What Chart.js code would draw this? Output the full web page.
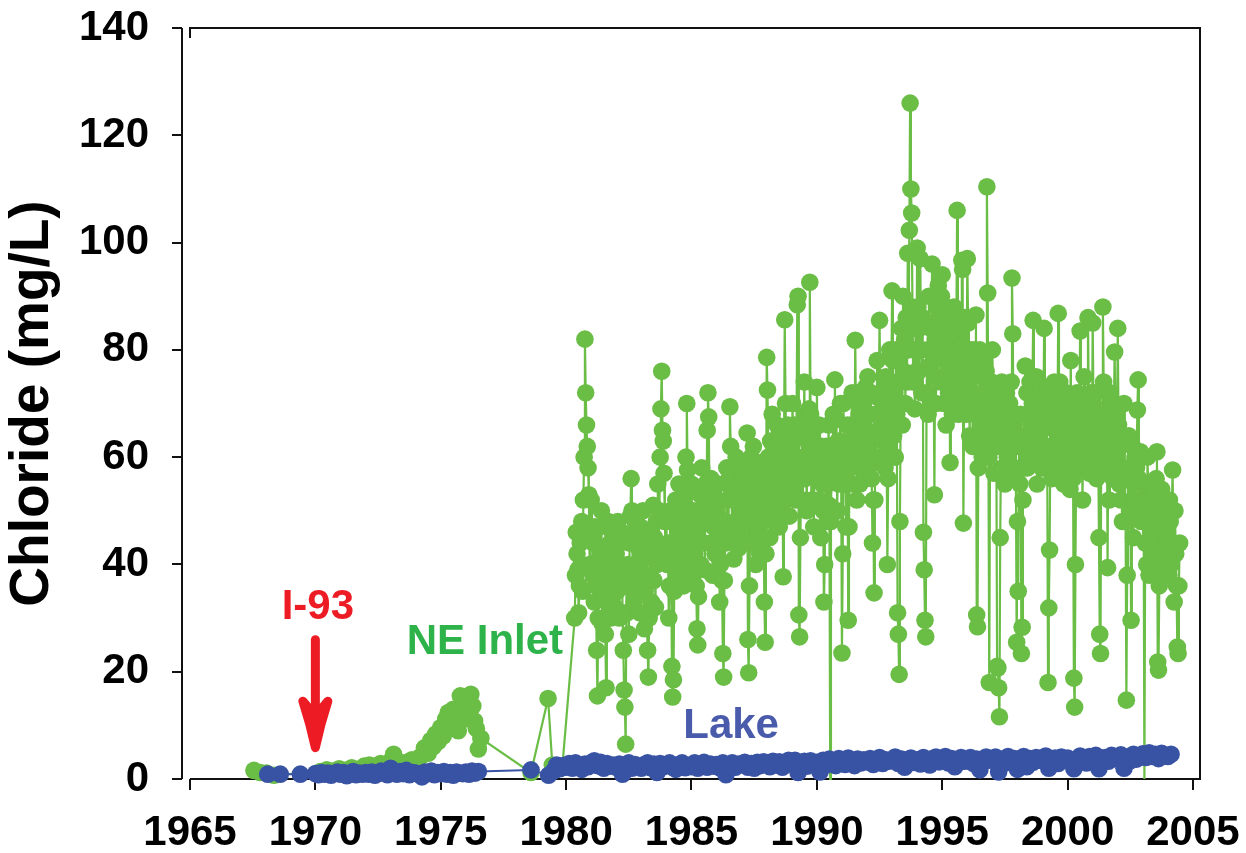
<!DOCTYPE html>
<html>
<head>
<meta charset="utf-8">
<title>Chloride - NE Inlet and Lake</title>
<script src="https://cdn.jsdelivr.net/npm/chart.js@4.4.0/dist/chart.umd.min.js"></script>
<style>
  html, body { margin: 0; padding: 0; background: #fff; }
  #wrap { width: 1246px; height: 853px; }
</style>
</head>
<body>
<div id="wrap"><canvas id="chloride"></canvas></div>
<script>
// axis ticks
const yearTicks = [1965, 1970, 1975, 1980, 1985, 1990, 1995, 2000, 2005];
const chlorideTicks = [0, 20, 40, 60, 80, 100, 120, 140];

// NE Inlet - scattered early samples (decimal year, mg/L)
const inletEarlyDates = [
  1967.55, 1967.8, 1968.05, 1968.35,
  1970.2, 1970.45, 1970.7, 1970.95, 1971.2, 1971.45, 1971.7, 1971.95,
  1972.15, 1972.4, 1972.6, 1972.8, 1973.0, 1973.12, 1973.25, 1973.45, 1973.65, 1973.85,
  1974.05, 1974.2, 1974.35, 1974.5, 1974.6, 1974.7, 1974.8, 1974.9,
  1975.0, 1975.1, 1975.2, 1975.3, 1975.4, 1975.5, 1975.6, 1975.7, 1975.78, 1975.86, 1975.95,
  1976.05, 1976.12, 1976.2, 1976.28, 1976.35, 1976.42, 1976.5, 1976.6,
  1978.6, 1979.28, 1979.45, 1979.6, 1979.85
];
const inletEarlyValues = [
  1.6, 1.2, 1.1, 0.7,
  1.4, 1.7, 1.5, 1.9, 1.6, 2.1, 1.8, 2.4,
  2.6, 2.3, 2.9, 2.6, 3.3, 4.6, 3.4, 2.8, 3.1, 3.6,
  3.3, 4.2, 5.8, 4.8, 7.2, 6.0, 8.4, 7.0,
  9.6, 8.0, 11.2, 12.4, 10.2, 13.0, 11.0, 9.0, 15.5, 13.4, 12.0,
  14.2, 11.2, 15.8, 13.6, 10.8, 9.4, 5.6, 7.6,
  1.2, 15.0, 2.6, 1.8, 2.3
];

// NE Inlet - regular sampling from spring 1980, 32 readings a year
const inletRunStart = 1980 + 11 / 32;
const inletRunStep = 1 / 32;
const inletRun = [
  /* 1980 */ 30, 38, 46, 42, 39, 31, 36, 44, 40, 48, 35, 52, 60, 82, 72, 66, 62, 58, 53, 40, 47,
  /* 1981 */ 52, 45, 38, 44, 33, 47, 36, 24, 15.5, 30, 41, 47, 36, 50, 29, 38, 43, 34, 27, 17, 33, 42, 48, 35, 44, 30, 39, 46, 36, 41, 32, 45,
  /* 1982 */ 42, 35, 48, 38, 30, 44, 36, 46, 31, 24, 16.6, 13.4, 6.5, 36, 31, 40, 27, 44, 49, 56, 50, 38, 45, 33, 48, 40, 35, 46, 39, 43, 31, 47,
  /* 1983 */ 44, 36, 50, 41, 28, 35, 46, 30, 24, 19, 30, 38, 46, 33, 42, 51, 37, 45, 32, 48, 40, 55, 43, 50, 60, 69, 76, 65, 63, 57, 48, 42,
  /* 1984 */ 48, 40, 44, 30, 36, 50, 42, 21, 15.3, 18.5, 35, 44, 52, 38, 47, 42, 55, 46, 50, 39, 52, 44, 36, 48, 53, 60, 70, 57.6, 45, 50, 41, 54,
  /* 1985 */ 55, 46, 38, 50, 42, 47, 36, 28, 25, 34, 47, 53, 40, 58, 49, 44, 52, 39, 55, 48, 65, 72, 67.5, 52, 44, 56, 49, 38, 47, 53, 42, 50,
  /* 1986 */ 50, 42, 55, 46, 33, 40, 48, 37, 23.4, 19, 37, 48, 44, 58, 52, 45, 56, 69.4, 62, 54, 45, 57, 41, 52, 48, 60, 46, 55, 43, 51, 58, 47,
  /* 1987 */ 55, 47, 58, 50, 44, 53, 48, 64.5, 26, 19.8, 36, 49, 60, 44, 53, 62, 48, 56, 40, 51, 59, 46, 54, 42, 57, 50, 45, 58, 48, 33, 25.5, 42,
  /* 1988 */ 78.6, 72.5, 60, 52, 45, 63, 55, 68, 50, 58, 48, 62, 55, 66, 52, 60, 47, 57, 64, 51, 59, 37.7, 60, 85.6, 70, 62, 53, 66, 58, 49, 63, 55,
  /* 1989 */ 62, 70, 55, 66, 58, 52, 64, 88.4, 90, 30.6, 26.5, 45, 58, 66, 52, 60, 74, 56, 68, 50, 63, 57, 69, 92.6, 68, 52, 60, 65, 47, 57, 66, 59,
  /* 1990 */ 73, 60, 52, 66, 58, 45, 62, 55, 50, 33, 40, 56, 62, 48, 55, 66, 51, 0, 48, 62, 57, 68, 60, 74.4, 58, 67, 50, 63, 55, 60, 70, 58,
  /* 1991 */ 23.5, 42, 70, 55, 62, 47, 58, 66, 29.6, 47, 63, 58, 66, 72, 55, 64, 60, 81.8, 66, 52, 72, 60, 68, 55, 64, 58, 70, 61, 67, 56, 73, 62,
  /* 1992 */ 62, 75, 58, 68, 64, 72, 56, 44, 52, 34.7, 52, 68, 60, 78, 65, 71, 85.5, 71, 60, 66, 72, 63, 70, 58, 75, 62, 40, 56, 73, 80, 67, 74,
  /* 1993 */ 91, 78, 64, 72, 60, 80, 68, 31, 27, 19.5, 48, 70, 84, 66, 90, 76, 82, 70, 86, 74, 98, 80, 102.3, 126, 110, 105.5, 88, 74, 80, 69, 84, 76,
  /* 1994 */ 99, 88, 76, 84, 97, 80, 72, 86, 46, 39, 29.6, 26.5, 72, 80, 68, 90, 77, 84, 70, 96, 85, 78, 53, 82, 70, 88, 75, 92, 80, 86, 74, 90,
  /* 1995 */ 94, 82, 70, 78, 88, 66, 75, 84, 72, 80, 59, 72, 85, 68, 80, 88, 76, 70, 84, 106, 80, 68, 84, 74, 86, 96.7, 95, 47.7, 72, 86, 78, 68,
  /* 1996 */ 97, 85, 74, 64, 80, 70, 76, 62, 72, 80, 68, 86.5, 30.6, 28.4, 58, 70, 80, 66, 75, 60, 72, 78, 64, 70, 76, 110.4, 90.6, 60, 18, 62, 68, 74,
  /* 1997 */ 80, 68, 57, 72, 62, 66, 21, 20.7, 17, 11.6, 45, 62, 74, 58, 70, 64, 55, 68, 72, 60, 66, 58, 70, 63, 74, 93.4, 83, 66, 58, 64, 56, 25.5,
  /* 1998 */ 48, 35, 62, 55, 68, 23.4, 28.3, 52, 64, 58, 77, 64, 72, 58, 68, 60, 74, 66, 62, 70, 85.5, 60, 70, 62, 75, 55, 66, 71, 59, 67, 73, 58,
  /* 1999 */ 70, 62, 84, 58, 66, 72, 60, 18, 31.9, 42.7, 62, 72, 56, 68, 60, 74, 65, 58, 70, 64, 86.8, 64, 74, 57, 66, 60, 70, 55, 68, 62, 72, 58,
  /* 2000 */ 66, 58, 70, 54, 78, 62, 68, 56, 18.8, 13.4, 40, 60, 72, 64, 58, 70, 83.5, 58, 68, 52, 66, 75, 60, 70, 62, 68, 86, 70, 57, 64, 72, 60,
  /* 2001 */ 85, 70, 60, 72, 64, 56, 68, 62, 45, 27, 23.4, 66, 58, 88, 74, 58, 68, 62, 72, 39.4, 66, 52, 72, 60, 70, 62, 56, 68, 79.6, 68, 58, 64,
  /* 2002 */ 84, 66, 55, 62, 52, 58, 48, 64, 70, 56, 48, 14.7, 38, 58, 64, 50, 56, 29.6, 50, 62, 45, 56, 60, 52, 58, 68.8, 74.4, 56, 52, 61, 48, 55,
  /* 2003 */ 48, 52, 0, 44, 52, 40, 60, 52, 38, 55, 46, 50, 40, 44, 53, 41, 49, 56, 61, 21.8, 20.3, 36, 50, 42, 54, 38, 47, 52, 44, 39, 50, 45,
  /* 2004 */ 45, 38, 52, 48, 40, 50, 57.6, 44, 33, 50, 42, 36, 24.6, 23.4, 36, 44
];

// Lake - a few lone samples, then two regular runs at 8 readings a year
const lakeSpotDates = [1968.1, 1968.6, 1969.4, 1978.6, 1979.3];
const lakeSpotValues = [0.9, 0.9, 0.9, 1.7, 0.7];
const lakeStep = 1 / 8;
const lakeRun1Start = 1970;
const lakeRun1 = [
  /* 1970 */ 1.0, 0.8, 1.2, 0.9, 1.1, 0.7, 1.0, 1.3,
  /* 1971 */ 0.9, 1.2, 0.6, 1.0, 1.4, 0.8, 1.1, 0.9,
  /* 1972 */ 1.2, 0.9, 1.3, 0.7, 1.0, 1.5, 1.1, 0.8,
  /* 1973 */ 2.0, 1.2, 0.9, 1.4, 1.0, 1.6, 0.8, 1.2,
  /* 1974 */ 1.1, 0.9, 0.4, 1.3, 1.0, 1.5, 0.8, 1.2,
  /* 1975 */ 1.0, 1.4, 0.9, 1.2, 0.7, 1.3, 1.1, 1.0,
  /* 1976 */ 1.3, 0.9, 1.5, 1.1, 1.4
];
const lakeRun2Start = 1979.5;
const lakeRun2 = [
  /* 1979 */ 1.5, 2.6, 1.9, 2.5,
  /* 1980 */ 2.2, 2.9, 2.0, 3.0, 2.4, 1.8, 2.8, 2.3,
  /* 1981 */ 3.0, 3.4, 2.5, 3.1, 2.0, 2.9, 2.4, 2.6,
  /* 1982 */ 2.2, 2.8, 0.9, 2.6, 3.0, 2.0, 2.7, 2.3,
  /* 1983 */ 2.0, 2.7, 3.0, 2.1, 2.8, 1.2, 2.9, 2.3,
  /* 1984 */ 2.6, 3.0, 2.2, 1.8, 2.7, 3.0, 2.1, 2.5,
  /* 1985 */ 2.3, 3.0, 2.0, 2.7, 3.1, 2.2, 2.8, 2.4,
  /* 1986 */ 2.7, 2.1, 3.0, 0.8, 2.4, 3.0, 2.2, 2.8,
  /* 1987 */ 2.8, 3.1, 2.2, 2.9, 2.0, 3.1, 2.5, 3.2,
  /* 1988 */ 2.9, 2.3, 3.3, 2.6, 3.2, 2.2, 3.0, 3.5,
  /* 1989 */ 2.8, 3.5, 1.2, 2.7, 3.3, 2.4, 3.4, 2.8,
  /* 1990 */ 3.1, 1.3, 3.5, 2.6, 3.7, 3.0, 2.5, 3.8,
  /* 1991 */ 3.4, 2.7, 3.9, 3.1, 2.5, 3.7, 3.0, 3.6,
  /* 1992 */ 3.2, 3.8, 2.7, 3.5, 4.0, 2.9, 3.6, 3.3,
  /* 1993 */ 3.5, 4.1, 2.9, 3.7, 2.2, 3.4, 3.9, 3.1,
  /* 1994 */ 3.6, 2.8, 4.0, 3.3, 2.6, 3.8, 4.1, 3.2,
  /* 1995 */ 3.7, 4.2, 3.0, 3.8, 2.3, 3.5, 4.0, 3.3,
  /* 1996 */ 3.4, 4.0, 2.9, 3.7, 1.7, 3.3, 4.1, 3.5,
  /* 1997 */ 3.6, 4.1, 1.3, 3.6, 3.0, 4.2, 3.2, 3.8,
  /* 1998 */ 1.8, 3.4, 4.2, 2.3, 3.8, 3.1, 4.0, 3.5,
  /* 1999 */ 3.8, 4.3, 2.0, 3.2, 3.9, 2.9, 4.1, 3.6,
  /* 2000 */ 3.9, 3.3, 1.9, 3.6, 4.3, 3.8, 3.0, 4.2,
  /* 2001 */ 3.7, 4.4, 1.9, 3.4, 4.0, 3.3, 4.4, 3.8,
  /* 2002 */ 4.0, 4.5, 2.0, 4.1, 3.4, 4.6, 3.7, 4.3,
  /* 2003 */ 4.7, 4.0, 4.9, 4.2, 4.6, 3.8, 4.8, 4.3,
  /* 2004 */ 4.2, 4.6
];

const FONT = '"Liberation Sans", Arial, Helvetica, sans-serif';
const inletGreen = '#6abd45';
const lakeBlue = '#3953a4';

function spotPoints(dates, values) {
  return dates.map((d, i) => ({ x: d, y: values[i] }));
}
function runPoints(start, step, values) {
  return values.map((v, i) => ({ x: start + i * step, y: v }));
}

const inletPoints = spotPoints(inletEarlyDates, inletEarlyValues)
  .concat(runPoints(inletRunStart, inletRunStep, inletRun));
const lakePoints = spotPoints(lakeSpotDates, lakeSpotValues)
  .concat(runPoints(lakeRun1Start, lakeStep, lakeRun1), runPoints(lakeRun2Start, lakeStep, lakeRun2))
  .sort((a, b) => a.x - b.x);

// axis lines drawn by hand: the y axis sits a few px off the plot box
const axisLines = {
  id: 'axisLines',
  beforeDatasetsDraw(chart) {
    const { ctx, chartArea: a, scales: { x, y } } = chart;
    const yAxisX = a.left - 8;
    ctx.save();
    ctx.strokeStyle = '#111';
    ctx.lineWidth = 2;
    ctx.beginPath();
    ctx.moveTo(yAxisX, a.top);
    ctx.lineTo(yAxisX, a.bottom);
    chlorideTicks.forEach(v => {
      const py = Math.round(y.getPixelForValue(v));
      ctx.moveTo(yAxisX - 10, py);
      ctx.lineTo(yAxisX, py);
    });
    ctx.moveTo(a.left, a.top + 10);
    ctx.lineTo(a.left, a.top);
    ctx.lineTo(a.right, a.top);
    ctx.lineTo(a.right, a.bottom);
    ctx.lineTo(a.left, a.bottom);
    yearTicks.forEach(v => {
      const px = Math.round(x.getPixelForValue(v));
      ctx.moveTo(px, a.bottom);
      ctx.lineTo(px, a.bottom + 11);
    });
    ctx.stroke();
    ctx.restore();
  }
};

// text labels and the I-93 arrow
const notes = {
  id: 'notes',
  afterDatasetsDraw(chart) {
    const { ctx, scales: { x, y } } = chart;
    ctx.save();
    ctx.font = 'bold 42px ' + FONT;
    ctx.textAlign = 'center';
    ctx.textBaseline = 'alphabetic';

    ctx.fillStyle = '#ed1c24';
    ctx.fillText('I-93', x.getPixelForValue(1970.1), y.getPixelForValue(29.8));

    // arrow pointing at 1970
    const ax = x.getPixelForValue(1970);
    const top = y.getPixelForValue(26.8);
    const tip = y.getPixelForValue(5.0);
    ctx.strokeStyle = '#ed1c24';
    ctx.lineWidth = 9;
    ctx.lineCap = 'round';
    ctx.lineJoin = 'round';
    ctx.beginPath();
    ctx.moveTo(ax, top + 4.5);
    ctx.lineTo(ax, tip - 20);
    ctx.stroke();
    ctx.beginPath();
    ctx.moveTo(ax - 12.5, tip - 51);
    ctx.quadraticCurveTo(ax - 5, tip - 28, ax, tip - 4.5);
    ctx.quadraticCurveTo(ax + 5, tip - 28, ax + 12.5, tip - 51);
    ctx.lineTo(ax, tip - 36);
    ctx.closePath();
    ctx.fill();
    ctx.stroke();

    ctx.fillStyle = '#2db34a';
    ctx.fillText('NE Inlet', x.getPixelForValue(1976.76), y.getPixelForValue(23.3));

    ctx.fillStyle = '#4a5bab';
    ctx.fillText('Lake', x.getPixelForValue(1986.58), y.getPixelForValue(7.6));
    ctx.restore();
  }
};

new Chart(document.getElementById('chloride'), {
  type: 'line',
  data: {
    datasets: [
      {
        label: 'Lake',
        data: lakePoints,
        borderColor: lakeBlue,
        borderWidth: 2,
        backgroundColor: lakeBlue,
        pointBackgroundColor: lakeBlue,
        pointBorderWidth: 0,
        pointRadius: 8.8,
        tension: 0,
        clip: false,
        order: 0
      },
      {
        label: 'NE Inlet',
        data: inletPoints,
        borderColor: inletGreen,
        borderWidth: 2.2,
        backgroundColor: inletGreen,
        pointBackgroundColor: inletGreen,
        pointBorderWidth: 0,
        pointRadius: c => (c.raw && c.raw.y === 0 ? 0 : 8.8),
        tension: 0,
        clip: false,
        order: 1
      }
    ]
  },
  options: {
    responsive: true,
    maintainAspectRatio: false,
    devicePixelRatio: 1,
    animation: false,
    events: [],
    layout: { padding: { top: 28, right: 46, left: 0, bottom: 0 } },
    plugins: { legend: { display: false }, tooltip: { enabled: false } },
    scales: {
      x: {
        type: 'linear',
        min: 1965,
        max: 2005.28,
        afterBuildTicks: s => { s.ticks = yearTicks.map(v => ({ value: v })); },
        afterFit: s => { s.height = 74; },
        // tickLength only sets the label gap; the marks themselves are drawn by axisLines
        grid: { display: false, drawTicks: true, tickLength: 29 },
        border: { display: false },
        ticks: {
          padding: 0,
          color: '#000',
          maxRotation: 0,
          autoSkip: false,
          font: { family: FONT, size: 42, weight: 'bold' },
          callback: v => String(v)
        }
      },
      y: {
        type: 'linear',
        min: 0,
        max: 140,
        afterBuildTicks: s => { s.ticks = chlorideTicks.map(v => ({ value: v })); },
        afterFit: s => { s.width = 190; },
        grid: { display: false, drawTicks: true, tickLength: 41 },
        border: { display: false },
        ticks: {
          padding: 0,
          color: '#000',
          font: { family: FONT, size: 42, weight: 'bold' },
          callback: v => String(v)
        },
        title: {
          display: true,
          text: 'Chloride (mg/L)',
          color: '#000',
          padding: 0,
          font: { family: FONT, size: 55, weight: 'bold' }
        }
      }
    }
  },
  plugins: [axisLines, notes]
});
</script>
</body>
</html>
